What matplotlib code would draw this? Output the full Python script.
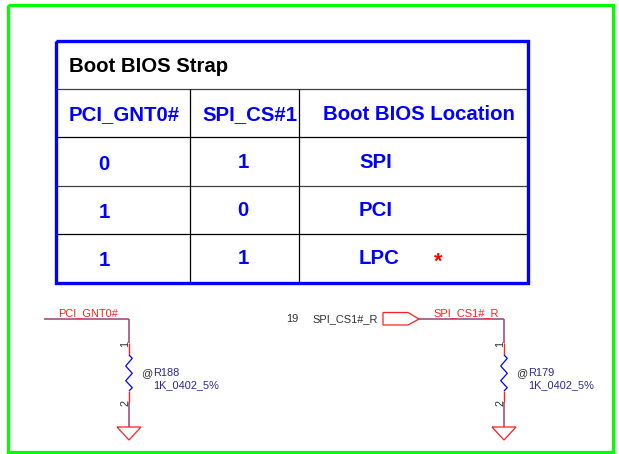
import matplotlib
matplotlib.use("Agg")
import matplotlib.pyplot as plt

plt.rcParams['font.family'] = ['Liberation Sans', 'DejaVu Sans']

title = "Boot BIOS Strap"
headers = ["PCI_GNT0#", "SPI_CS#1", "Boot BIOS Location"]
col1 = ["0", "1", "1"]
col2 = ["1", "0", "1"]
col3 = ["SPI", "PCI", "LPC"]
y1 = [164, 212, 261]
y2 = [163, 211, 258.5]
y3 = [163, 211, 259]
net_left = "PCI_GNT0#"
net_right = "SPI_CS1#_R"
refs = ["R188", "R179"]
value = "1K_0402_5%"

GREEN = "#00ff00"; BLUE = "#0000ff"; RED = "#ff2020"; WIRE = "#a05080"; NAVY = "#2a2a90"; DARK = "#303030"

fig = plt.figure(figsize=(6.19, 4.54), dpi=100)
ax = fig.add_axes([0, 0, 1, 1])
ax.set_xlim(0, 619); ax.set_ylim(454, 0); ax.axis("off")

def L(x, y, c, lw, **k):
    ax.plot(x, y, color=c, lw=lw, solid_capstyle="butt", solid_joinstyle="miter", **k)

# frames
L([8, 613, 613, 8, 8], [4.5, 4.5, 452, 452, 4.5], GREEN, 2.3)
for y, c in [(89, "#404040"), (137, "black"), (185.7, "#404040"), (234.3, "black")]:
    L([56, 528], [y, y], c, 0.9)
for x in [189.5, 298.5]:
    L([x, x], [89, 283], "black", 0.9)
L([56, 528, 528, 56, 56], [41, 41, 283, 283, 41], BLUE, 2.4)

# table text
FS = 14.7
ax.text(69, 66, title, color="black", fontsize=FS, fontweight="bold", ha="left", va="center")
for x, h in zip([69, 202, 323], headers):
    ax.text(x, 114.5, h, color=BLUE, fontsize=FS, fontweight="bold", ha="left", va="center")
for a, y in zip(col1, y1):
    ax.text(104, y, a, color=BLUE, fontsize=FS, fontweight="bold", ha="center", va="center")
for b, y in zip(col2, y2):
    ax.text(243, y, b, color=BLUE, fontsize=FS, fontweight="bold", ha="center", va="center")
for c, y in zip(col3, y3):
    ax.text(359, y, c, color=BLUE, fontsize=FS, fontweight="bold", ha="left", va="center")
ax.text(438.5, 262, "*", color="red", fontsize=FS + 1, fontweight="bold", ha="center", va="center")

# schematic
SMALL = 7.9
def resistor(x, ref):
    L([x, x], [319, 343], WIRE, 1.2)
    L([x, x], [343, 355], RED, 1.0)
    L([x, x+3.3, x-3.3, x+3.3, x-3.3, x+3.3, x], [355, 358.3, 366, 373.3, 380.7, 387.7, 391], BLUE, 0.9)
    L([x, x], [391, 402], RED, 1.0)
    L([x, x], [402, 427], WIRE, 1.2)
    L([x-12, x+12, x, x-12], [427, 427, 440, 427], RED, 0.9)
    ax.text(x-3.5, 344, "1", color=DARK, fontsize=SMALL, rotation=90, ha="center", va="center")
    ax.text(x-3.5, 403, "2", color=DARK, fontsize=SMALL, rotation=90, ha="center", va="center")
    ax.text(x+18, 373.5, "@", color=DARK, fontsize=SMALL, ha="center", va="center")
    ax.text(x+24.5, 373.5, ref, color=NAVY, fontsize=SMALL, ha="left", va="center")
    ax.text(x+24.5, 385.5, value, color=NAVY, fontsize=SMALL, ha="left", va="center")

L([44, 129], [319, 319], WIRE, 1.2)
L([419, 504], [319, 319], WIRE, 1.2)
resistor(129, refs[0])
resistor(504, refs[1])
ax.text(88.5, 313, net_left, color=RED, fontsize=SMALL, ha="center", va="center")
ax.text(466, 313, net_right, color=RED, fontsize=SMALL, ha="center", va="center")
ax.text(292, 319.5, "19", color=DARK, fontsize=SMALL, ha="center", va="center")
ax.text(345, 319.5, net_right, color=DARK, fontsize=SMALL, ha="center", va="center")
L([419, 408, 383, 383, 408, 419], [319, 312.5, 312.5, 325, 325, 319], RED, 0.9)

fig.savefig("out.png", dpi=100)
